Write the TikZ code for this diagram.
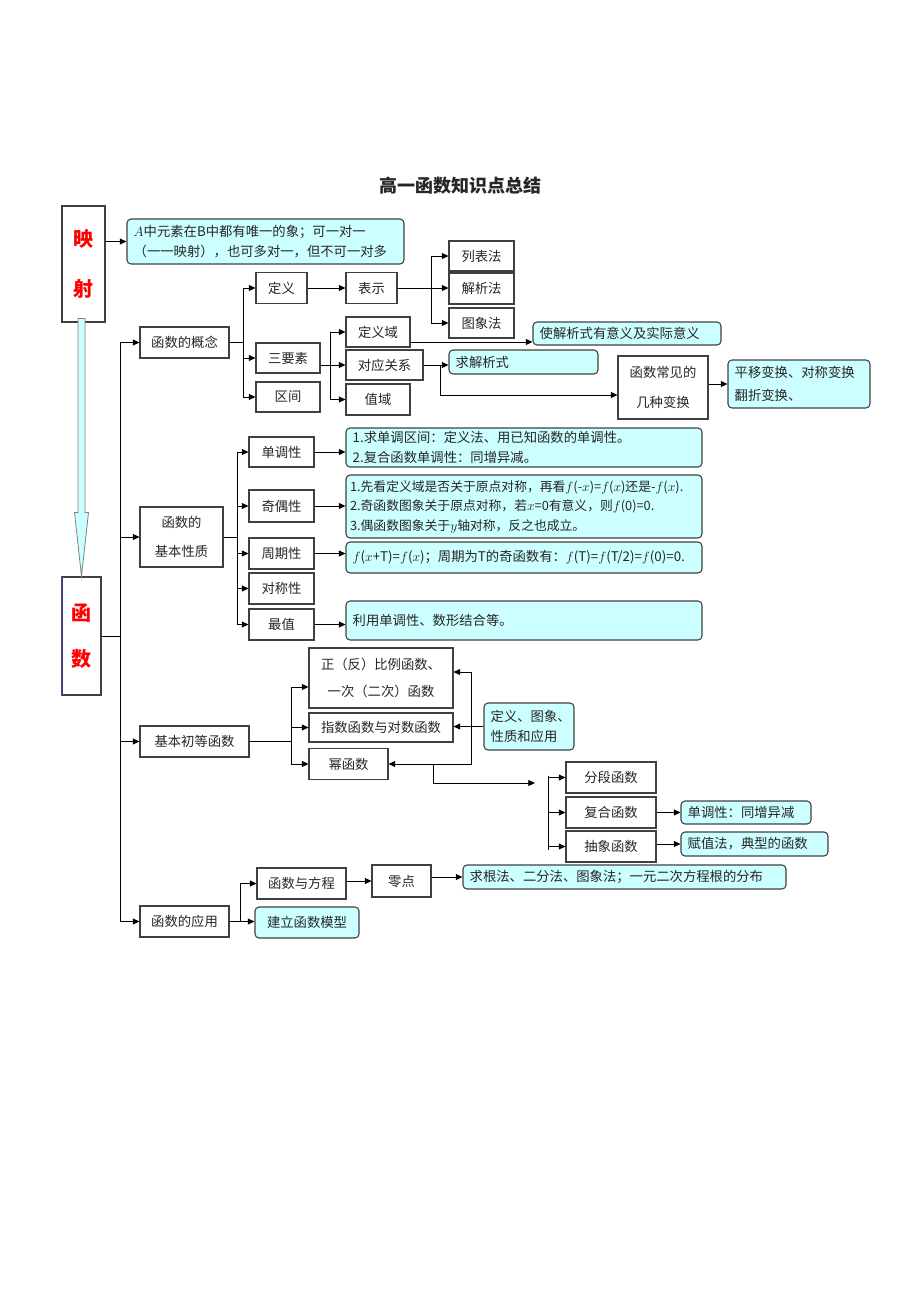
\documentclass[tikz,border=0pt]{standalone}
\usepackage{fontspec}
\setmainfont{Noto Sans CJK SC}
\usetikzlibrary{arrows.meta, positioning, calc}

\definecolor{lcyan}{HTML}{CCFFFF}
\definecolor{edge}{HTML}{404040}

\tikzset{
  base/.style={font=\fontsize{10}{15}\selectfont, text=black!85, inner sep=0pt},
  sz/.style 2 args={minimum width=#1*0.75pt, minimum height=#2*0.75pt},
  isz/.style 2 args={sz={#1}{#2}, text width=#1*0.75pt-10pt},
  box/.style={base, draw=edge, line width=0.8pt, fill=white, align=center},
  info/.style={base, draw=edge, line width=0.8pt, fill=lcyan, rounded corners=3pt, align=left, inner xsep=5pt},
  big/.style={box, font=\bfseries\fontsize{15}{37}\selectfont, text=red},
  arr/.style={-{Triangle[length=5pt,width=4.5pt]}, line width=0.6pt},
  ln/.style={line width=0.6pt},
  fatarr/.style={fill=lcyan, draw=gray, line width=0.6pt},
}

\begin{document}
\begin{tikzpicture}[x=0.75pt,y=-0.75pt]
\useasboundingbox (0,0) rectangle (920,1302);

\node[base, font=\bfseries\fontsize{13.5}{16}\selectfont] (title) at (460,186) {高一函数知识点总结};

% left column
\node[big, sz={43}{116}] (ys) at (83.5,264) {映\\射};
\node[big, sz={39}{118}, font=\bfseries\fontsize{15}{34.5}\selectfont] (hs) at (81.5,636) {函\\数};
\draw[blue!45!gray, line width=1pt] (hs.north west) -- (hs.south west);
\path (ys.south -| hs.north) coordinate (fa);
\draw[fatarr] ($(fa)+(-3.5,-4)$) -- ($(fa)+(3.5,-4)$) -- ($(hs.north)+(3.5,-64)$) -- ($(hs.north)+(7,-64)$)
  -- (hs.north) -- ($(hs.north)+(-7,-64)$) -- ($(hs.north)+(-3.5,-64)$) -- cycle;

\node[info, isz={277}{45}] (mapdesc) at (265.5,241.5) {$A$中元素在B中都有唯一的象；可一对一\\（一一映射），也可多对一，但不可一对多};

% main branches
\node[box, sz={89}{31}] (gn) at (184.5,342.5) {函数的概念};
\node[box, sz={83}{60}] (jb) at (181.5,537) {函数的\\[7pt]基本性质};
\node[box, sz={109}{31}] (cd) at (194.5,741.5) {基本初等函数};
\node[box, sz={89}{31}] (yy) at (184.5,921.5) {函数的应用};

% concept
\node[box, sz={51}{31}] (dy) at (281.5,288) {定义};
\node[box, sz={64}{30}] (sys) at (288,358) {三要素};
\node[box, sz={64}{30}] (qj) at (288,397) {区间};
\node[box, sz={51}{31}] (bs) at (371.5,288) {表示};
\node[box, sz={65}{30}] (lbf) at (481.5,256) {列表法};
\node[box, sz={65}{31}] (jxf) at (481.5,288.5) {解析法};
\node[box, sz={65}{30}] (txf) at (481.5,323) {图象法};
\node[box, sz={64}{30}] (dyy) at (378,332) {定义域};
\node[box, sz={77}{30}] (dygx) at (384.5,365) {对应关系};
\node[box, sz={64}{31}] (zy) at (378,399.5) {值域};
\node[info, isz={188}{23}] (yiyi) at (627,333.5) {使解析式有意义及实际意义};
\node[info, isz={149}{24}] (qjxs) at (523.5,362) {求解析式};
\node[box, sz={90}{63}] (bh) at (663,387.5) {函数常见的\\[7pt]几种变换};
\node[info, isz={142}{48}, font=\fontsize{10}{17}\selectfont] (bhd) at (799,384) {平移变换、对称变换\\翻折变换、};

% properties
\node[box, sz={65}{30}] (ddx) at (281.5,452) {单调性};
\node[box, sz={65}{32}] (joux) at (281.5,506) {奇偶性};
\node[box, sz={65}{31}] (zqx) at (281.5,553.5) {周期性};
\node[box, sz={65}{31}] (dcx) at (281.5,588.5) {对称性};
\node[box, sz={65}{31}] (zz) at (281.5,624.5) {最值};
\node[info, isz={356}{39}] (ddd) at (524,447.5) {1.求单调区间：定义法、用已知函数的单调性。\\2.复合函数单调性：同增异减。};
\node[info, isz={356}{63}, inner xsep=3pt, text width=261pt, font=\fontsize{9.6}{14.6}\selectfont] (jod) at (524,506.5)
  {\mbox{1.先看定义域是否关于原点对称，再看$f$(-$x$)=$f$($x$)还是-$f$($x$).}\\2.奇函数图象关于原点对称，若$x$=0有意义，则$f$(0)=0.\\3.偶函数图象关于$y$轴对称，反之也成立。};
\node[info, isz={356}{31}] (zqd) at (524,557.5) {$f$($x$+T)=$f$($x$)；周期为T的奇函数有：$f$(T)=$f$(T/2)=$f$(0)=0.};
\node[info, isz={356}{39}] (zzd) at (524,620.5) {利用单调性、数形结合等。};

% elementary functions
\node[box, sz={144}{60}] (zfb) at (381,678) {正（反）比例函数、\\[5pt]一次（二次）函数};
\node[box, sz={144}{29}] (zsds) at (381,727.5) {指数函数与对数函数};
\node[box, sz={79}{31}] (mhs) at (348.5,764) {幂函数};
\node[info, isz={90}{47}] (dxyy) at (529,726.5) {定义、图象、\\性质和应用};
\node[box, sz={90}{31}] (fd) at (611,777.5) {分段函数};
\node[box, sz={90}{31}] (fh) at (611,812.5) {复合函数};
\node[box, sz={90}{31}] (cx) at (611,846.5) {抽象函数};
\node[info, isz={130}{23}] (fhd) at (746,812.5) {单调性：同增异减};
\node[info, isz={147}{24}] (cxd) at (754.5,844) {赋值法，典型的函数};

% applications
\node[box, sz={89}{31}] (hsfc) at (301.5,883.5) {函数与方程};
\node[box, sz={59}{32}] (lingd) at (401.5,881) {零点};
\node[info, isz={323}{24}] (qgf) at (624.5,877) {求根法、二分法、图象法；一元二次方程根的分布};
\node[info, isz={104}{31}, align=center] (jlmx) at (307,922.5) {建立函数模型};

% connectors
\draw[arr] (ys.east |- mapdesc.west) -- (mapdesc.west);

\coordinate (tk) at (120,0);
\draw[ln] (hs.east) -- (hs.east -| tk);
\draw[ln] (tk |- gn.west) -- (tk |- yy.west);
\foreach \n in {gn,jb,cd,yy} \draw[arr] (tk |- \n.west) -- (\n.west);

\coordinate (b1) at (243,0);
\draw[ln] (gn.east) -- (gn.east -| b1);
\draw[ln] (b1 |- dy.west) -- (b1 |- qj.west);
\foreach \n in {dy,sys,qj} \draw[arr] (b1 |- \n.west) -- (\n.west);
\draw[arr] (dy.east) -- (bs.west);
\coordinate (b2) at (431,0);
\draw[arr] (bs.east) -- (bs.east -| jxf.west);
\draw[ln] (b2 |- lbf.west) -- (b2 |- txf.west);
\foreach \n in {lbf,txf} \draw[arr] (b2 |- \n.west) -- (\n.west);

\coordinate (b3) at (330,0);
\draw[arr] (sys.east |- dygx.west) -- (dygx.west);
\draw[ln] (b3 |- dyy.west) -- (b3 |- zy.west);
\foreach \n in {dyy,zy} \draw[arr] (b3 |- \n.west) -- (\n.west);
\coordinate (d1) at ($(dyy.east)+(0,10)$);
\draw[arr] (d1) -- (d1 -| yiyi.west);
\coordinate (j1) at (440,0);
\draw[arr] (dygx.east) -- (dygx.east -| qjxs.west);
\draw[arr] (j1 |- dygx.east) |- ($(bh.west)+(0,7.5)$);
\draw[arr] (bh.east |- bhd.west) -- (bhd.west);

\coordinate (b4) at (237,0);
\draw[ln] (jb.east) -- (jb.east -| b4);
\draw[ln] (b4 |- ddx.west) -- (b4 |- zz.west);
\foreach \n in {ddx,joux,zqx,dcx,zz} \draw[arr] (b4 |- \n.west) -- (\n.west);
\draw[arr] (ddx.east) -- (ddx.east -| ddd.west);
\draw[arr] (joux.east) -- (joux.east -| jod.west);
\draw[arr] (zqx.east) -- (zqx.east -| zqd.west);
\draw[arr] (zz.east) -- (zz.east -| zzd.west);

\coordinate (b5) at (291,0);
\coordinate (z1) at ($(zfb.west)+(0,9)$);
\draw[ln] (cd.east) -- (cd.east -| b5);
\draw[ln] (b5 |- z1) -- (b5 |- mhs.west);
\draw[arr] (b5 |- z1) -- (z1);
\foreach \n in {zsds,mhs} \draw[arr] (b5 |- \n.west) -- (\n.west);
\coordinate (j2) at (471,0);
\coordinate (z2) at ($(zfb.east)+(0,-6)$);
\draw[arr] (dxyy.west) -- (dxyy.west -| zsds.east);
\draw[arr] (j2 |- dxyy.west) |- (z2);
\draw[arr] (j2 |- dxyy.west) |- (mhs.east);
\coordinate (j3) at (433,0);
\coordinate (j4) at (535,783);
\draw[arr] (j3 |- mhs.east) |- (j4);
\coordinate (b7) at (548,0);
\draw[ln] ($(b7 |- fd.west)+(0,-2)$) -- ($(b7 |- cx.west)+(0,3)$);
\foreach \n in {fd,fh,cx} \draw[arr] (b7 |- \n.west) -- (\n.west);
\draw[arr] (fh.east) -- (fh.east -| fhd.west);
\draw[arr] (cx.east |- cxd.west) -- (cxd.west);

\coordinate (b6) at (240,0);
\draw[arr] (yy.east) -- (yy.east -| jlmx.west);
\draw[ln] (b6 |- yy.east) -- (b6 |- hsfc.west);
\draw[arr] (b6 |- hsfc.west) -- (hsfc.west);
\draw[arr] (hsfc.east |- lingd.west) -- (lingd.west);
\draw[arr] (lingd.east |- qgf.west) -- (qgf.west);
\end{tikzpicture}
\end{document}
